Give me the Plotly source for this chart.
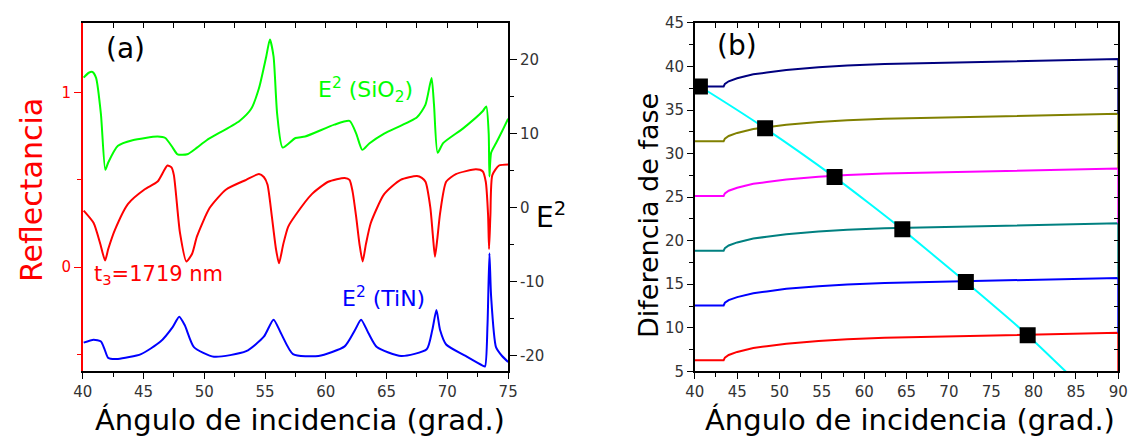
import plotly.graph_objects as go

W, H = 1145, 448
FONT = "DejaVu Sans"

# ---------------- panel (a): reflectance and field intensity ----------------
ANG_R = [40.08, 40.9, 41.46, 41.84, 42.1, 42.65, 43.73, 45.08, 46.16, 46.97, 47.3, 47.5,
         48.0, 48.53, 49.0, 49.4, 50.45, 51.8, 53.45, 54.5, 54.9, 55.2, 55.55, 55.9,
         56.15, 56.5, 56.9, 57.5, 58.85, 60.2, 61.55, 61.95, 62.2, 62.5, 62.77, 63.03,
         63.3, 63.7, 64.8, 66.15, 67.5, 67.9, 68.2, 68.6, 68.8, 68.98, 69.17, 69.4,
         69.9, 70.7, 72.35, 72.9, 73.16, 73.35, 73.43, 73.54, 73.7, 74.25, 75.0]
REFL = [0.324, 0.253, 0.13, 0.038, 0.104, 0.214, 0.363, 0.445, 0.49, 0.582, 0.571, 0.527,
        0.198, 0.033, 0.077, 0.176, 0.34, 0.445, 0.5, 0.533, 0.516, 0.473, 0.297, 0.104,
        0.022, 0.132, 0.231, 0.297, 0.418, 0.489, 0.511, 0.5, 0.434, 0.286, 0.132, 0.033,
        0.132, 0.253, 0.418, 0.5, 0.522, 0.511, 0.489, 0.341, 0.187, 0.06, 0.16, 0.308,
        0.489, 0.533, 0.56, 0.549, 0.489, 0.297, 0.104, 0.297, 0.527, 0.582, 0.588]

ANG_SIO2 = [40.08, 40.5, 40.8, 41.1, 41.5, 41.86, 42.1, 42.9, 44.1, 46.16, 46.8, 47.4,
            47.8, 48.6, 49.4, 50.2, 52.9, 53.85, 54.5, 55.1, 55.4, 55.7, 56.0, 56.45,
            57.5, 58.3, 60.7, 61.95, 62.5, 63.0, 63.6, 64.8, 67.5, 68.2, 68.7, 68.9,
            69.2, 69.65, 71.3, 72.9, 73.2, 73.4, 73.46, 73.6, 74.0, 74.5, 75.0]
E2_SIO2 = [17.54, 18.2, 18.3, 17.5, 12.6, 5.1, 6.1, 8.35, 9.1, 9.6, 9.4, 8.1,
           7.2, 7.2, 8.1, 9.1, 11.7, 13.3, 16.1, 20.4, 22.7, 20.4, 12.6, 8.1,
           9.4, 9.6, 11.2, 11.7, 10.0, 7.8, 8.7, 10.0, 12.2, 13.9, 17.5, 13.9,
           7.4, 8.7, 10.7, 13.0, 13.66, 10.0, 4.2, 7.4, 8.7, 10.3, 12.0]

ANG_TIN = [40.08, 40.9, 41.5, 41.8, 42.1, 42.9, 44.8, 46.4, 47.4, 47.94, 48.4, 49.15,
           50.8, 53.45, 54.9, 55.7, 56.3, 57.3, 59.4, 61.55, 62.4, 62.9, 63.5, 64.2,
           66.2, 68.3, 68.76, 69.1, 69.4, 69.9, 71.5, 72.9, 73.1, 73.3, 73.46, 73.6,
           74.0, 74.5, 75.0]
E2_TIN = [-18.2, -17.8, -18.06, -19.1, -20.26, -20.4, -19.74, -18.06, -16.1, -14.7, -15.86, -18.8,
          -20.1, -19.35, -17.4, -15.1, -16.9, -19.74, -20.0, -18.7, -16.5, -15.1, -16.9, -18.8,
          -20.0, -19.1, -16.5, -13.8, -16.5, -18.45, -20.0, -21.3, -21.4, -15.9, -6.15, -12.0,
          -18.8, -20.0, -20.8]

E2_TICKS = [-20, -10, 0, 10, 20]
E2_TICKTEXT = ["-20", "-10", "0", "10", "20"]

# ---------------- panel (b): phase difference ----------------
ANG_B = [40.0, 43.4, 43.55, 44.0, 45.0, 46.9, 48.5, 50.8, 54.6, 58.0, 62.4, 68.0, 74.3, 82.0, 90.0, 90.0]
PH_1 = [6.28, 6.28, 6.58, 6.88, 7.23, 7.68, 7.88, 8.18, 8.48, 8.68, 8.85, 8.96, 9.08, 9.26, 9.43, 3.15]
PH_2 = [12.57, 12.57, 12.87, 13.17, 13.52, 13.97, 14.17, 14.47, 14.77, 14.97, 15.14, 15.25, 15.37, 15.55, 15.72, 9.43]
PH_3 = [18.85, 18.85, 19.15, 19.45, 19.8, 20.25, 20.45, 20.75, 21.05, 21.25, 21.42, 21.53, 21.65, 21.83, 22.0, 15.72]
PH_4 = [25.13, 25.13, 25.43, 25.73, 26.08, 26.53, 26.73, 27.03, 27.33, 27.53, 27.7, 27.81, 27.93, 28.11, 28.28, 22.0]
PH_5 = [31.42, 31.42, 31.72, 32.02, 32.37, 32.82, 33.02, 33.32, 33.62, 33.82, 33.99, 34.1, 34.22, 34.4, 34.57, 28.28]
PH_6 = [37.7, 37.7, 38.0, 38.3, 38.65, 39.1, 39.3, 39.6, 39.9, 40.1, 40.27, 40.38, 40.5, 40.68, 40.85, 34.57]

ANG_PROP = [40.0, 40.6, 48.3, 56.5, 60.3, 64.5, 72.0, 79.3, 84.1]
PH_PROP = [38.05, 37.7, 32.9, 27.3, 24.5, 21.3, 15.25, 9.15, 4.7]

ANG_MODE = [40.6, 48.3, 56.5, 64.5, 72.0, 79.3]
PH_MODE = [37.7, 32.9, 27.3, 21.3, 15.25, 9.15]

PHASE_CURVES = [(PH_1, "#ff0000"), (PH_2, "#0000ff"), (PH_3, "#008080"),
                (PH_4, "#ff00ff"), (PH_5, "#808000"), (PH_6, "#00007f")]


def px(x):
    return x / W


def py(y):
    return 1 - y / H


A_DOM = [px(74), px(507)]
B_DOM = [px(697), px(1128)]
Y_DOM = [py(377.5), py(14.5)]

fig = go.Figure()

fig.add_trace(go.Scatter(x=ANG_R, y=REFL, mode="lines", xaxis="x", yaxis="y",
                         line=dict(color="#ff0000", width=2, shape="spline", smoothing=0.6),
                         showlegend=False, hoverinfo="skip"))
fig.add_trace(go.Scatter(x=ANG_SIO2, y=E2_SIO2, mode="lines", xaxis="x3", yaxis="y2",
                         line=dict(color="#00ff00", width=2, shape="spline", smoothing=0.6),
                         showlegend=False, hoverinfo="skip"))
fig.add_trace(go.Scatter(x=ANG_TIN, y=E2_TIN, mode="lines", xaxis="x3", yaxis="y2",
                         line=dict(color="#0000ff", width=2, shape="spline", smoothing=0.6),
                         showlegend=False, hoverinfo="skip"))

for ph, col in PHASE_CURVES:
    fig.add_trace(go.Scatter(x=ANG_B, y=ph, mode="lines", xaxis="x2", yaxis="y3",
                             line=dict(color=col, width=2),
                             showlegend=False, hoverinfo="skip"))
fig.add_trace(go.Scatter(x=ANG_PROP, y=PH_PROP, mode="lines", xaxis="x4", yaxis="y4",
                         line=dict(color="#00ffff", width=2, shape="spline", smoothing=0.5),
                         showlegend=False, hoverinfo="skip"))
fig.add_trace(go.Scatter(x=ANG_MODE, y=PH_MODE, mode="markers", xaxis="x4", yaxis="y4",
                         marker=dict(symbol="square", size=16, color="#000000",
                                     line=dict(width=0)),
                         showlegend=False, hoverinfo="skip"))

tickfont = dict(family=FONT, size=15, color="#333333")
AXLINE = dict(showline=True, linecolor="#000000", linewidth=1.5, showgrid=False,
              zeroline=False)

fig.update_layout(
    width=W, height=H,
    margin=dict(l=0, r=0, t=0, b=0),
    paper_bgcolor="white", plot_bgcolor="white",
    font=dict(family=FONT),
    # panel (a)
    xaxis=dict(domain=A_DOM, anchor="y", range=[40, 75], tickmode="linear", tick0=40, dtick=5,
               ticks="outside", ticklen=6, tickwidth=1.2, tickcolor="#000000",
               minor=dict(dtick=2.5, tick0=40, ticks="outside", ticklen=4, tickcolor="#000000"),
               tickfont=tickfont, **AXLINE),
    xaxis3=dict(overlaying="x", anchor="y", side="top", range=[40, 75], tickmode="linear",
                tick0=40, dtick=2.5, ticks="inside", ticklen=5, tickwidth=1.2,
                tickcolor="#000000", showticklabels=False, **AXLINE),
    yaxis=dict(domain=Y_DOM, anchor="x", range=[-0.596, 1.398], tickmode="array",
               tickvals=[0, 1], ticktext=["0", "1"], ticks="outside", ticklen=7,
               tickwidth=1.2, tickcolor="#ff0000",
               minor=dict(tickmode="array", tickvals=[-0.5, 0.5], ticks="outside", ticklen=4,
                          tickcolor="#ff0000"),
               tickfont=dict(family=FONT, size=15, color="#ff0000"),
               showline=True, linecolor="#ff0000", linewidth=1.5, showgrid=False,
               zeroline=False),
    yaxis2=dict(overlaying="y", anchor="x", side="right", range=[-22.07, 24.92],
                tickmode="array", tickvals=E2_TICKS, ticktext=E2_TICKTEXT,
                ticks="outside", ticklen=7, tickwidth=1.2, tickcolor="#000000",
                minor=dict(dtick=5, tick0=0, ticks="outside", ticklen=4, tickcolor="#000000"),
                tickfont=tickfont, **AXLINE),
    # panel (b)
    xaxis2=dict(domain=B_DOM, anchor="y3", range=[40, 90], tickmode="linear", tick0=40, dtick=5,
                ticks="outside", ticklen=6, tickwidth=1.2, tickcolor="#000000",
                minor=dict(dtick=2.5, tick0=40, ticks="outside", ticklen=4, tickcolor="#000000"),
                tickfont=tickfont, **AXLINE),
    xaxis4=dict(overlaying="x2", anchor="y3", side="top", range=[40, 90], tickmode="linear",
                tick0=40, dtick=2.5, ticks="inside", ticklen=5, tickwidth=1.2,
                tickcolor="#000000", showticklabels=False, **AXLINE),
    yaxis3=dict(domain=Y_DOM, anchor="x2", range=[5, 45], tickmode="linear", tick0=5, dtick=5,
                ticks="outside", ticklen=6, tickwidth=1.2, tickcolor="#000000",
                minor=dict(dtick=2.5, tick0=5, ticks="outside", ticklen=4, tickcolor="#000000"),
                tickfont=tickfont, **AXLINE),
    yaxis4=dict(overlaying="y3", anchor="x2", side="right", range=[5, 45], tickmode="linear",
                tick0=5, dtick=2.5, ticks="inside", ticklen=5, tickwidth=1.2,
                tickcolor="#000000", showticklabels=False, **AXLINE),
)


def label(text, x, y, size, color="#000000", angle=0):
    fig.add_annotation(text=text, x=px(x), y=py(y), xref="paper", yref="paper",
                       showarrow=False, textangle=angle, xanchor="center", yanchor="middle",
                       font=dict(family=FONT, size=size, color=color))


label("(a)", 118, 41, 28)
label("(b)", 740, 38, 28)
label("E<sup>2</sup> (SiO<sub>2</sub>)", 362, 84, 22, "#00ff00")
label("t<sub>3</sub>=1719 nm", 151, 277, 21, "#ff0000")
label("E<sup>2</sup> (TiN)", 380, 300, 22, "#0000ff")
label("Reflectancia", 22, 189, 30, "#ff0000", -90)
label("E<sup>2</sup>", 551, 215, 28)
label("Diferencia de fase", 650, 215, 27, "#000000", -90)
label("Ángulo de incidencia (grad.)", 295, 428, 29)
label("Ángulo de incidencia (grad.)", 916, 428, 29)

fig.write_html("out.html")
